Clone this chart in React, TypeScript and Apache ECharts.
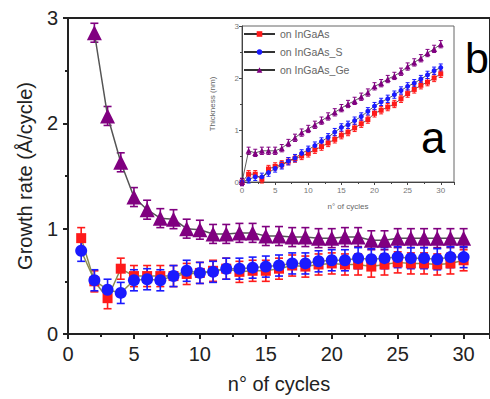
import React, { useEffect, useRef } from "react";
import * as echarts from "echarts";

// ---- Main chart (b): growth rate vs cycle ----
const mainCycles = [1, 2, 3, 4, 5, 6, 7, 8, 9, 10, 11, 12, 13, 14, 15, 16, 17, 18, 19, 20, 21, 22, 23, 24, 25, 26, 27, 28, 29, 30];
const mainRed = [0.91, 0.5, 0.34, 0.62, 0.55, 0.55, 0.55, 0.55, 0.57, 0.58, 0.6, 0.62, 0.59, 0.6, 0.6, 0.62, 0.65, 0.64, 0.66, 0.67, 0.66, 0.66, 0.64, 0.66, 0.68, 0.67, 0.67, 0.66, 0.67, 0.7];
const mainBlue = [0.79, 0.51, 0.42, 0.39, 0.51, 0.52, 0.51, 0.55, 0.6, 0.58, 0.59, 0.62, 0.62, 0.63, 0.64, 0.65, 0.67, 0.67, 0.69, 0.7, 0.7, 0.72, 0.71, 0.72, 0.73, 0.72, 0.72, 0.71, 0.73, 0.73];
const purpleCycles = [2, 3, 4, 5, 6, 7, 8, 9, 10, 11, 12, 13, 14, 15, 16, 17, 18, 19, 20, 21, 22, 23, 24, 25, 26, 27, 28, 29, 30];
const mainPurple = [2.86, 2.07, 1.63, 1.3, 1.18, 1.1, 1.09, 1.0, 0.99, 0.95, 0.95, 0.96, 0.96, 0.93, 0.93, 0.92, 0.92, 0.91, 0.91, 0.92, 0.92, 0.89, 0.89, 0.91, 0.91, 0.91, 0.91, 0.91, 0.91];
const mainRedErr = 0.1;
const mainBlueErr = 0.1;
const mainPurpleErr = 0.09;

// ---- Inset (a): thickness vs cycle ----
const insetCycles = [0, 1, 2, 3, 4, 5, 6, 7, 8, 9, 10, 11, 12, 13, 14, 15, 16, 17, 18, 19, 20, 21, 22, 23, 24, 25, 26, 27, 28, 29, 30];
const insetRed = [0, 0.15, 0.15, 0.05, 0.25, 0.3, 0.34, 0.4, 0.45, 0.5, 0.55, 0.62, 0.68, 0.75, 0.82, 0.9, 0.96, 1.04, 1.12, 1.2, 1.32, 1.38, 1.44, 1.5, 1.6, 1.7, 1.78, 1.86, 1.92, 2.0, 2.08];
const insetBlue = [0, 0.05, 0.1, 0.1, 0.18, 0.26, 0.32, 0.4, 0.46, 0.55, 0.62, 0.7, 0.78, 0.86, 0.96, 1.05, 1.1, 1.18, 1.26, 1.36, 1.46, 1.54, 1.6, 1.68, 1.76, 1.84, 1.9, 1.98, 2.06, 2.14, 2.2];
const insetPurple = [0, 0.6, 0.56, 0.6, 0.6, 0.6, 0.65, 0.75, 0.85, 0.95, 1.02, 1.1, 1.18, 1.26, 1.34, 1.42, 1.5, 1.56, 1.64, 1.72, 1.84, 1.9, 1.98, 2.04, 2.12, 2.22, 2.3, 2.38, 2.48, 2.56, 2.65];
const insetErr = 0.07;

const seriesNames = ["on InGaAs", "on InGaAs_S", "on InGaAs_Ge"];
const RED = "#ff1a1a";
const BLUE = "#1a1aff";
const PURPLE = "#800080";

function pairs(xs: number[], ys: number[]) {
  return xs.map((x, i) => [x, ys[i]]);
}
function triples(xs: number[], ys: number[], e: number) {
  return xs.map((x, i) => [x, ys[i], e]);
}

function errRender(color: string, capHalf: number, lw: number) {
  return (params: any, api: any) => {
    const x = api.value(0);
    const y = api.value(1);
    const e = api.value(2);
    const top = api.coord([x, y + e]);
    const bot = api.coord([x, y - e]);
    const st = { stroke: color, lineWidth: lw };
    return {
      type: "group",
      children: [
        { type: "line", shape: { x1: top[0], y1: top[1], x2: bot[0], y2: bot[1] }, style: st },
        { type: "line", shape: { x1: top[0] - capHalf, y1: top[1], x2: top[0] + capHalf, y2: top[1] }, style: st },
        { type: "line", shape: { x1: bot[0] - capHalf, y1: bot[1], x2: bot[0] + capHalf, y2: bot[1] }, style: st },
      ],
    };
  };
}

export default function App() {
  const ref = useRef<HTMLDivElement>(null);
  useEffect(() => {
    if (!ref.current) return;
    const chart = echarts.init(ref.current, undefined, { renderer: "svg" });
    const axisFont = "'Liberation Sans', Arial, sans-serif";
    const mainAxisLine = { show: true, lineStyle: { color: "#222", width: 2 } };
    const insetAxisLine = { show: true, lineStyle: { color: "#444", width: 1 } };
    const option: any = {
      animation: false,
      backgroundColor: "#fff",
      grid: [
        { left: 68, top: 18, width: 429, height: 318, show: true, borderColor: "#222", borderWidth: 2, backgroundColor: "transparent" },
        { left: 242, top: 26, width: 212, height: 156, show: true, borderColor: "#666", borderWidth: 1, backgroundColor: "#fff" },
      ],
      legend: {
        data: seriesNames,
        left: 238,
        top: 22,
        orient: "vertical",
        itemWidth: 31,
        itemHeight: 7,
        itemGap: 4,
        textStyle: { fontSize: 10.5, color: "#666", fontFamily: axisFont, lineHeight: 14 },
        selectedMode: false,
      },
      xAxis: [
        {
          type: "value", gridIndex: 0, min: 0, max: 32, interval: 5,
          name: "n° of cycles", nameLocation: "middle", nameGap: 40,
          nameTextStyle: { fontSize: 20, color: "#222", fontFamily: axisFont },
          axisLine: mainAxisLine,
          axisTick: { show: true, length: 5, lineStyle: { color: "#222", width: 2 } },
          minorTick: { show: true, splitNumber: 2, length: 3, lineStyle: { color: "#222", width: 2 } },
          axisLabel: { fontSize: 20, color: "#222", margin: 10, fontFamily: axisFont, showMaxLabel: false },
          splitLine: { show: false },
        },
        {
          type: "value", gridIndex: 1, min: 0, max: 32, interval: 5,
          name: "n° of cycles", nameLocation: "middle", nameGap: 20,
          nameTextStyle: { fontSize: 8, color: "#666", fontFamily: axisFont },
          axisLine: insetAxisLine,
          axisTick: { show: true, length: 3, lineStyle: { color: "#444" } },
          minorTick: { show: true, splitNumber: 2, length: 2, lineStyle: { color: "#444" } },
          axisLabel: { fontSize: 8, color: "#777", margin: 4, fontFamily: axisFont, showMaxLabel: false },
          splitLine: { show: false },
        },
      ],
      yAxis: [
        {
          type: "value", gridIndex: 0, min: 0, max: 3, interval: 1,
          name: "Growth rate (Å/cycle)", nameLocation: "middle", nameGap: 33, nameRotate: 90,
          nameTextStyle: { fontSize: 20, color: "#222", fontFamily: axisFont },
          axisLine: mainAxisLine,
          axisTick: { show: true, length: 5, lineStyle: { color: "#222", width: 2 } },
          minorTick: { show: true, splitNumber: 2, length: 3, lineStyle: { color: "#222", width: 2 } },
          axisLabel: { fontSize: 20, color: "#222", margin: 10, fontFamily: axisFont },
          splitLine: { show: false },
        },
        {
          type: "value", gridIndex: 1, min: 0, max: 3, interval: 1,
          name: "Thickness (nm)", nameLocation: "middle", nameGap: 26, nameRotate: 90,
          nameTextStyle: { fontSize: 8, color: "#666", fontFamily: axisFont },
          axisLine: insetAxisLine,
          axisTick: { show: true, length: 3, lineStyle: { color: "#444" } },
          minorTick: { show: true, splitNumber: 2, length: 2, lineStyle: { color: "#444" } },
          axisLabel: { fontSize: 8, color: "#777", margin: 3, fontFamily: axisFont },
          splitLine: { show: false },
        },
      ],
      series: [
        // main error bars
        { type: "custom", name: "errRed", xAxisIndex: 0, yAxisIndex: 0, z: 2, encode: { x: 0, y: 1 }, data: triples(mainCycles, mainRed, mainRedErr), renderItem: errRender(RED, 4, 1.6) },
        { type: "custom", name: "errBlue", xAxisIndex: 0, yAxisIndex: 0, z: 3, encode: { x: 0, y: 1 }, data: triples(mainCycles, mainBlue, mainBlueErr), renderItem: errRender(BLUE, 4, 1.6) },
        { type: "custom", name: "errPurple", xAxisIndex: 0, yAxisIndex: 0, z: 2, encode: { x: 0, y: 1 }, data: triples(purpleCycles, mainPurple, mainPurpleErr), renderItem: errRender(PURPLE, 4, 1.6) },
        // main markers
        { type: "line", name: "rate InGaAs", xAxisIndex: 0, yAxisIndex: 0, z: 4, data: pairs(mainCycles, mainRed), symbol: "rect", symbolSize: 10, itemStyle: { color: RED }, lineStyle: { color: "#8c8c50", width: 1.5 } },
        { type: "line", name: "rate InGaAs_S", xAxisIndex: 0, yAxisIndex: 0, z: 5, data: pairs(mainCycles, mainBlue), symbol: "circle", symbolSize: 12, itemStyle: { color: BLUE }, lineStyle: { color: "#8c8c50", width: 1.5 } },
        { type: "line", name: "rate InGaAs_Ge", xAxisIndex: 0, yAxisIndex: 0, z: 4, data: pairs(purpleCycles, mainPurple), symbol: "triangle", symbolSize: 15, itemStyle: { color: PURPLE }, lineStyle: { color: "#555", width: 1.5 } },
        // inset error bars
        { type: "custom", name: "ierrRed", xAxisIndex: 1, yAxisIndex: 1, z: 2, encode: { x: 0, y: 1 }, data: triples(insetCycles, insetRed, insetErr), renderItem: errRender(RED, 2, 1) },
        { type: "custom", name: "ierrBlue", xAxisIndex: 1, yAxisIndex: 1, z: 2, encode: { x: 0, y: 1 }, data: triples(insetCycles, insetBlue, insetErr), renderItem: errRender(BLUE, 2, 1) },
        { type: "custom", name: "ierrPurple", xAxisIndex: 1, yAxisIndex: 1, z: 2, encode: { x: 0, y: 1 }, data: triples(insetCycles, insetPurple, insetErr), renderItem: errRender(PURPLE, 2, 1) },
        // inset markers
        { type: "line", name: seriesNames[0], xAxisIndex: 1, yAxisIndex: 1, z: 4, data: pairs(insetCycles, insetRed), symbol: "rect", symbolSize: 5, itemStyle: { color: RED }, lineStyle: { color: "#333", width: 0.8 } },
        { type: "line", name: seriesNames[1], xAxisIndex: 1, yAxisIndex: 1, z: 4, data: pairs(insetCycles, insetBlue), symbol: "circle", symbolSize: 5, itemStyle: { color: BLUE }, lineStyle: { color: "#333", width: 0.8 } },
        { type: "line", name: seriesNames[2], xAxisIndex: 1, yAxisIndex: 1, z: 4, data: pairs(insetCycles, insetPurple), symbol: "triangle", symbolSize: 6, itemStyle: { color: PURPLE }, lineStyle: { color: "#333", width: 0.8 } },
      ],
      graphic: [
        { type: "text", left: 421, top: 115, z: 100, style: { text: "a", fontSize: 44, fontFamily: axisFont, fill: "#000" } },
        { type: "text", left: 465, top: 36, z: 100, style: { text: "b", fontSize: 43, fontFamily: axisFont, fill: "#000" } },
      ],
    };
    chart.setOption(option);
    return () => chart.dispose();
  }, []);
  return <div ref={ref} style={{ position: "fixed", left: 0, top: 0, width: 490, height: 399, background: "#fff" }} />;
}
